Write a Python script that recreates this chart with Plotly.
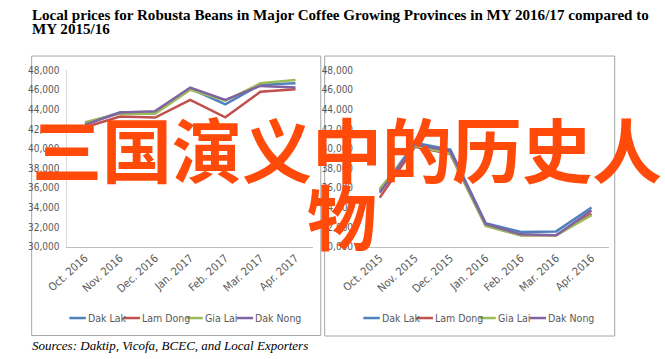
import plotly.graph_objects as go

W, H = 665, 359

months_1617 = ["Oct. 2016", "Nov. 2016", "Dec. 2016", "Jan. 2017", "Feb. 2017", "Mar. 2017", "Apr. 2017"]
months_1516 = ["Oct. 2015", "Nov. 2015", "Dec. 2015", "Jan. 2016", "Feb. 2016", "Mar. 2016", "Apr. 2016"]

provinces = ["Dak Lak", "Lam Dong", "Gia Lai", "Dak Nong"]
colors = ["#4F81BD", "#C0504D", "#9BBB59", "#8064A2"]

dak_lak_1617 = [42580, 43700, 43640, 46150, 44530, 46550, 46680]
lam_dong_1617 = [42190, 43280, 43180, 44990, 43210, 45820, 46080]
gia_lai_1617 = [42710, 43600, 43580, 46020, 44900, 46680, 47010]
dak_nong_1617 = [42450, 43700, 43840, 46250, 44990, 46420, 46250]

dak_lak_1516 = [35700, 40600, 39900, 32400, 31500, 31550, 34000]
lam_dong_1516 = [35000, 40200, 39450, 32150, 31150, 31150, 33350]
gia_lai_1516 = [35900, 40300, 39500, 32100, 31150, 31150, 33200]
dak_nong_1516 = [35500, 40450, 39750, 32300, 31250, 31150, 33700]

y_ticks = [30000, 32000, 34000, 36000, 38000, 40000, 42000, 44000, 46000, 48000]

title_line1 = "Local prices for Robusta Beans in Major Coffee Growing Provinces in MY 2016/17 compared to"
title_line2 = "MY 2015/16"
source_text = "Sources: Daktip, Vicofa, BCEC, and Local Exporters"
watermark_line1 = "三国演义中的历史人"
watermark_line2 = "物"

series_1617 = [dak_lak_1617, lam_dong_1617, gia_lai_1617, dak_nong_1617]
series_1516 = [dak_lak_1516, lam_dong_1516, gia_lai_1516, dak_nong_1516]

NARROW = "Liberation Sans Narrow, DejaVu Sans Condensed, Arial Narrow, sans-serif"
GRAY = "#595959"


def px_x(p):
    return p / W


def px_y(p):
    return 1 - p / H


fig = go.Figure()
for name, col, vals in zip(provinces, colors, series_1617):
    fig.add_trace(go.Scatter(x=months_1617, y=vals, mode="lines", name=name,
                             line=dict(color=col, width=2.5), xaxis="x", yaxis="y",
                             showlegend=False))
for name, col, vals in zip(provinces, colors, series_1516):
    fig.add_trace(go.Scatter(x=months_1516, y=vals, mode="lines", name=name,
                             line=dict(color=col, width=2.5), xaxis="x2", yaxis="y2",
                             showlegend=False))

ydom = [px_y(248.5), px_y(67.3)]

yfont = dict(family=NARROW, size=10, color=GRAY)
xfont = dict(family=NARROW, size=11, color=GRAY)

fig.update_layout(
    width=W, height=H,
    margin=dict(l=0, r=0, t=0, b=0),
    paper_bgcolor="white", plot_bgcolor="white",
    xaxis=dict(domain=[px_x(47), px_x(301)], range=[-0.5, 6.5], anchor="y",
               showline=True, linecolor="#BFBFBF", linewidth=1, tickangle=-42,
               ticks="", showgrid=False, zeroline=False, tickfont=xfont),
    yaxis=dict(domain=ydom, range=[30000, 48000], tickvals=y_ticks, tickformat=",",
               anchor="x", showline=True, linecolor="#D9D9D9", linewidth=1, ticks="",
               ticklabelstandoff=5, showgrid=False, zeroline=False, tickfont=yfont),
    xaxis2=dict(domain=[px_x(351.75), px_x(607.25)], range=[-0.5, 6.5], anchor="y2",
                showline=True, linecolor="#BFBFBF", linewidth=1, tickangle=-42,
                ticks="", showgrid=False, zeroline=False, tickfont=xfont),
    yaxis2=dict(domain=ydom, range=[30000, 48000], tickvals=y_ticks, tickformat=",",
                anchor="x2", showline=False, ticks="", ticklabelstandoff=8,
                showgrid=False, zeroline=False, tickfont=yfont),
    showlegend=False,
)

# panel borders
fig.add_shape(type="rect", xref="paper", yref="paper", x0=px_x(10), x1=px_x(309),
              y0=px_y(340), y1=px_y(52.5), line=dict(color="#A6A6A6", width=1), layer="below")
fig.add_shape(type="rect", xref="paper", yref="paper", x0=px_x(313), x1=px_x(613),
              y0=px_y(340.5), y1=px_y(52.5), line=dict(color="#A6A6A6", width=1), layer="below")

# legends (one per panel)
legend_left_x = [49, 105, 170, 222]
legend_right_x = [353, 408, 473, 525]
legend_y = 322
for xs in (legend_left_x, legend_right_x):
    for name, col, x0 in zip(provinces, colors, xs):
        fig.add_shape(type="line", xref="paper", yref="paper",
                      x0=px_x(x0), x1=px_x(x0 + 17), y0=px_y(legend_y), y1=px_y(legend_y),
                      line=dict(color=col, width=2.5))
        fig.add_annotation(text=name, xref="paper", yref="paper", x=px_x(x0 + 17), y=px_y(legend_y),
                           xanchor="left", yanchor="middle", showarrow=False,
                           font=dict(family=NARROW, size=10.5, color=GRAY))

SERIF = "Liberation Serif, Times New Roman, serif"
fig.add_annotation(text=title_line1, xref="paper", yref="paper", x=px_x(8), y=px_y(10),
                   xanchor="left", yanchor="middle", showarrow=False,
                   font=dict(family=SERIF, size=15.1, color="black", weight="bold"))
fig.add_annotation(text=title_line2, xref="paper", yref="paper", x=px_x(8), y=px_y(24.5),
                   xanchor="left", yanchor="middle", showarrow=False,
                   font=dict(family=SERIF, size=15.1, color="black", weight="bold"))
fig.add_annotation(text=source_text, xref="paper", yref="paper", x=px_x(8), y=px_y(350),
                   xanchor="left", yanchor="middle", showarrow=False,
                   font=dict(family=SERIF, size=13, color="black", style="italic"))

CJK = "Noto Sans CJK SC"
fig.add_annotation(text=watermark_line1, xref="paper", yref="paper", x=px_x(336), y=px_y(147),
                   xanchor="center", yanchor="middle", showarrow=False,
                   font=dict(family=CJK, size=70, color="#FF4A0A", weight="bold"))
fig.add_annotation(text=watermark_line2, xref="paper", yref="paper", x=px_x(331), y=px_y(215),
                   xanchor="center", yanchor="middle", showarrow=False,
                   font=dict(family=CJK, size=70, color="#FF4A0A", weight="bold"))

fig.write_html("out.html", config={"displayModeBar": False},
               post_script="document.body.style.margin='0';document.body.style.overflow='hidden';")
